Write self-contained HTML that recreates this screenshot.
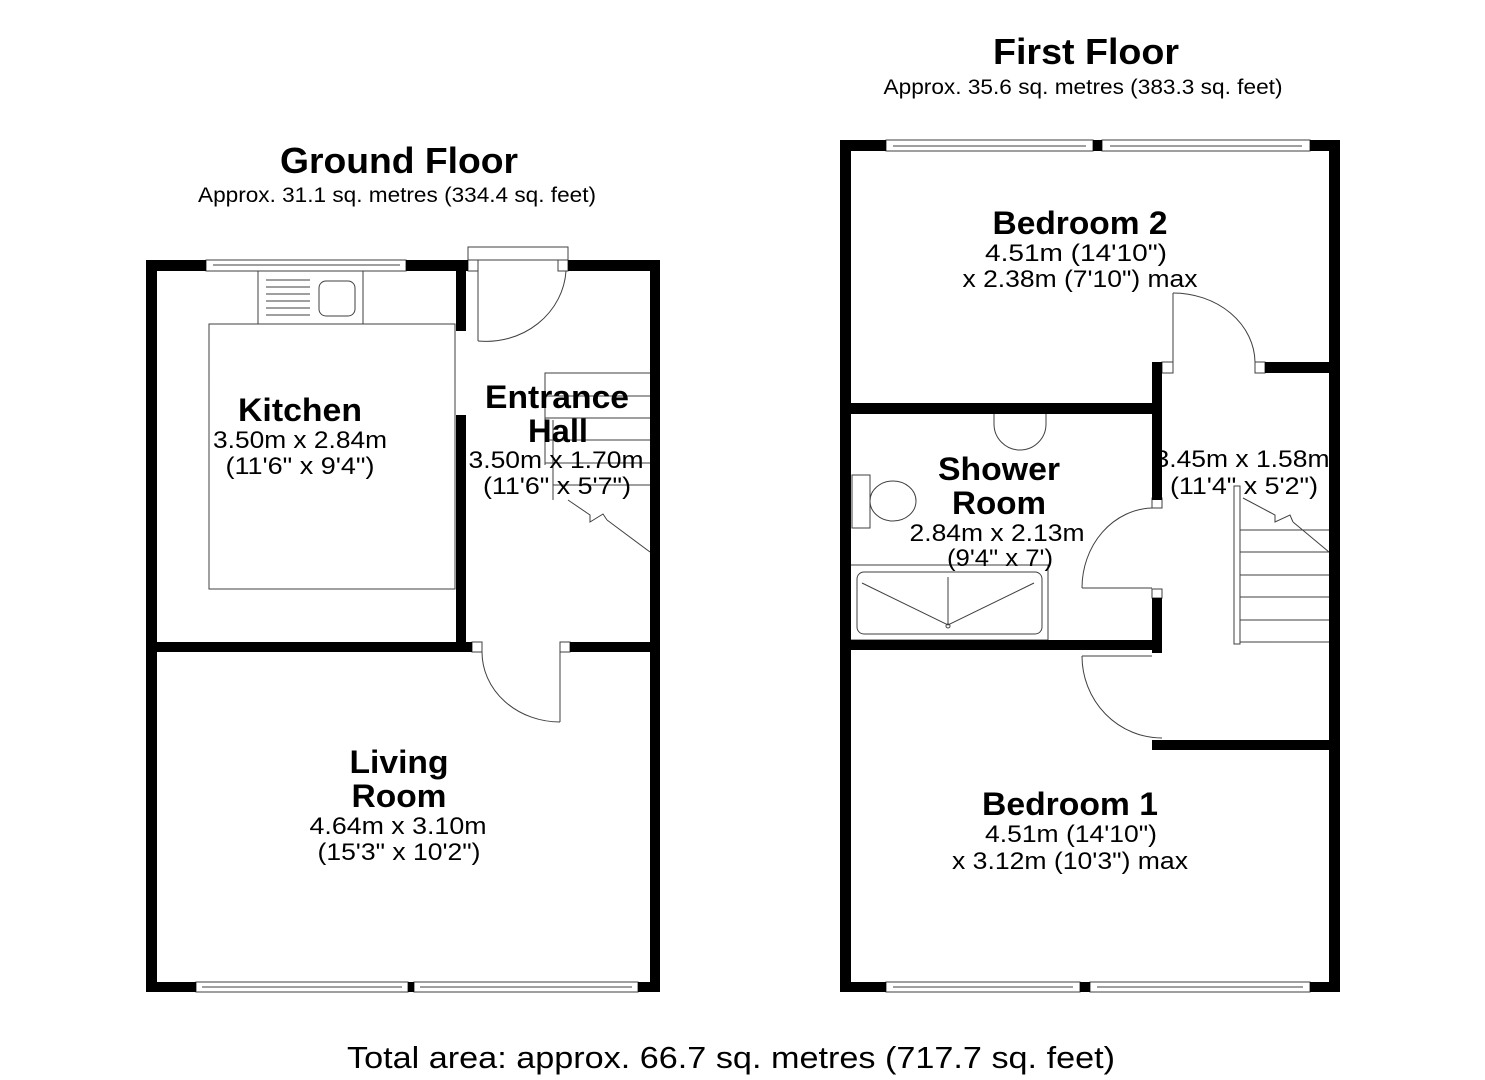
<!DOCTYPE html>
<html><head><meta charset="utf-8"><style>
html,body{margin:0;padding:0;background:#fff;}
svg{display:block;font-family:"Liberation Sans",Arial,sans-serif;}
</style></head><body>
<svg width="1485" height="1080" viewBox="0 0 1485 1080" xmlns="http://www.w3.org/2000/svg">
<g fill="#000">
<rect x="146" y="260" width="11" height="732"/>
<rect x="146" y="260" width="60" height="11"/>
<rect x="406" y="260" width="62" height="11"/>
<rect x="568" y="260" width="92" height="11"/>
<rect x="650" y="260" width="10" height="732"/>
<rect x="456" y="260" width="10" height="71"/>
<rect x="456" y="415" width="10" height="237"/>
<rect x="146" y="642" width="326" height="10"/>
<rect x="570" y="642" width="90" height="10"/>
<rect x="146" y="982" width="50" height="10"/>
<rect x="408" y="982" width="6" height="10"/>
<rect x="638" y="982" width="22" height="10"/>
<rect x="840" y="140" width="11" height="852"/>
<rect x="840" y="140" width="46" height="11"/>
<rect x="1093" y="140" width="9" height="11"/>
<rect x="1310" y="140" width="30" height="11"/>
<rect x="1329" y="140" width="11" height="852"/>
<rect x="840" y="403" width="322" height="11"/>
<rect x="1152" y="362" width="10" height="138"/>
<rect x="1265" y="362" width="70" height="11"/>
<rect x="840" y="640" width="322" height="10"/>
<rect x="1152" y="598" width="10" height="55"/>
<rect x="1152" y="740" width="186" height="10"/>
<rect x="840" y="982" width="46" height="10"/>
<rect x="1080" y="982" width="10" height="10"/>
<rect x="1310" y="982" width="30" height="10"/>
</g>
<g fill="none" stroke="#000" stroke-width="1" opacity="0.75">
<rect x="206" y="260" width="200" height="11"/><line x1="213" y1="265" x2="400" y2="265"/>
<rect x="196" y="982" width="212" height="10"/><line x1="202" y1="987" x2="402" y2="987"/>
<rect x="414" y="982" width="224" height="10"/><line x1="420" y1="987" x2="632" y2="987"/>
<rect x="468" y="247" width="100" height="13"/>
<rect x="468" y="260" width="10" height="11"/><rect x="558" y="260" width="10" height="11"/>
<line x1="478" y1="271" x2="478" y2="341"/>
<path d="M478 341 A80 75 0 0 0 566 271"/>
<rect x="472" y="642" width="10" height="10"/><rect x="560" y="642" width="10" height="10"/>
<line x1="560" y1="652" x2="560" y2="722"/>
<path d="M482 652 A78 70 0 0 0 560 722"/>
<rect x="209" y="324" width="246" height="265"/>
<rect x="258" y="271" width="105" height="53"/>
<line x1="266" y1="280" x2="310" y2="280"/><line x1="266" y1="287" x2="310" y2="287"/><line x1="266" y1="294" x2="310" y2="294"/><line x1="266" y1="301" x2="310" y2="301"/><line x1="266" y1="308" x2="310" y2="308"/><line x1="266" y1="315" x2="310" y2="315"/>
<rect x="319" y="281" width="36" height="35" rx="7"/>
<polyline points="545,465 545,373 650,373"/>
<line x1="545" y1="396" x2="650" y2="396"/><line x1="545" y1="418" x2="650" y2="418"/><line x1="545" y1="440" x2="650" y2="440"/><line x1="545" y1="463" x2="650" y2="463"/><line x1="553" y1="485" x2="650" y2="485"/>
<line x1="553" y1="420" x2="553" y2="500"/>
<polyline points="568,500 590,515 590,522 603,514 607,520"/>
<line x1="607" y1="520" x2="650" y2="552"/>
<rect x="886" y="140" width="207" height="11"/><line x1="893" y1="146" x2="1086" y2="146"/>
<rect x="1102" y="140" width="208" height="11"/><line x1="1110" y1="146" x2="1302" y2="146"/>
<rect x="886" y="982" width="194" height="10"/><line x1="893" y1="987" x2="1073" y2="987"/>
<rect x="1090" y="982" width="220" height="10"/><line x1="1097" y1="987" x2="1303" y2="987"/>
<rect x="1162" y="362" width="11" height="11"/><rect x="1255" y="362" width="10" height="11"/>
<line x1="1173" y1="293" x2="1173" y2="362"/>
<path d="M1173 293 A82 70 0 0 1 1255 362"/>
<rect x="1152" y="498" width="10" height="10"/><rect x="1152" y="589" width="10" height="9"/>
<line x1="1082" y1="588" x2="1152" y2="588"/>
<path d="M1152 508 A72 80 0 0 0 1082 588"/>
<line x1="1082" y1="656" x2="1152" y2="656"/>
<path d="M1082 656 A80 82 0 0 0 1162 738"/>
<path d="M994 414 L994 424 A25 25 0 0 0 1046 424 L1046 414"/>
<rect x="852" y="475" width="18" height="53"/>
<ellipse cx="893" cy="501" rx="23" ry="20"/>
<rect x="850" y="565" width="198" height="75"/>
<rect x="857" y="572" width="185" height="62" rx="7"/>
<polyline points="862,583 948,625 1034,583"/><line x1="948" y1="577" x2="948" y2="625"/><circle cx="948" cy="626" r="2"/>
<rect x="1234" y="486" width="6" height="158"/>
<line x1="1240" y1="530" x2="1329" y2="530"/><line x1="1240" y1="552" x2="1329" y2="552"/><line x1="1240" y1="575" x2="1329" y2="575"/><line x1="1240" y1="597" x2="1329" y2="597"/><line x1="1240" y1="620" x2="1329" y2="620"/><line x1="1240" y1="642" x2="1329" y2="642"/>
<polyline points="1243,498 1275,515 1275,522 1290,515 1293,522"/>
<line x1="1293" y1="522" x2="1329" y2="552"/>
</g>
<g text-anchor="middle" fill="#000" lengthAdjust="spacingAndGlyphs">
<text x="399" y="173" font-size="36" font-weight="bold" textLength="238" lengthAdjust="spacingAndGlyphs">Ground Floor</text>
<text x="397" y="202" font-size="21" textLength="398" lengthAdjust="spacingAndGlyphs">Approx. 31.1 sq. metres (334.4 sq. feet)</text>
<text x="1086" y="64" font-size="36" font-weight="bold" textLength="186" lengthAdjust="spacingAndGlyphs">First Floor</text>
<text x="1083" y="94" font-size="21" textLength="399" lengthAdjust="spacingAndGlyphs">Approx. 35.6 sq. metres (383.3 sq. feet)</text>
<text x="731" y="1068" font-size="31" textLength="768" lengthAdjust="spacingAndGlyphs">Total area: approx. 66.7 sq. metres (717.7 sq. feet)</text>

<text x="300" y="421" font-size="32" font-weight="bold" textLength="124" lengthAdjust="spacingAndGlyphs">Kitchen</text>
<text x="300" y="448" font-size="24" textLength="174" lengthAdjust="spacingAndGlyphs">3.50m x 2.84m</text>
<text x="300" y="474" font-size="24" textLength="149" lengthAdjust="spacingAndGlyphs">(11'6" x 9'4")</text>

<text x="557" y="408" font-size="32" font-weight="bold" textLength="144" lengthAdjust="spacingAndGlyphs">Entrance</text>
<text x="558" y="442" font-size="32" font-weight="bold" textLength="60" lengthAdjust="spacingAndGlyphs">Hall</text>
<text x="556" y="468" font-size="24" textLength="175" lengthAdjust="spacingAndGlyphs">3.50m x 1.70m</text>
<text x="557" y="494" font-size="24" textLength="148" lengthAdjust="spacingAndGlyphs">(11'6" x 5'7")</text>

<text x="399" y="773" font-size="32" font-weight="bold" textLength="99" lengthAdjust="spacingAndGlyphs">Living</text>
<text x="399" y="807" font-size="32" font-weight="bold" textLength="95" lengthAdjust="spacingAndGlyphs">Room</text>
<text x="398" y="834" font-size="24" textLength="177" lengthAdjust="spacingAndGlyphs">4.64m x 3.10m</text>
<text x="399" y="860" font-size="24" textLength="163" lengthAdjust="spacingAndGlyphs">(15'3" x 10'2")</text>

<text x="1080" y="234" font-size="32" font-weight="bold" textLength="175" lengthAdjust="spacingAndGlyphs">Bedroom 2</text>
<text x="1076" y="261" font-size="24" textLength="182" lengthAdjust="spacingAndGlyphs">4.51m (14'10")</text>
<text x="1080" y="287" font-size="24" textLength="235" lengthAdjust="spacingAndGlyphs">x 2.38m (7'10") max</text>

<text x="999" y="480" font-size="32" font-weight="bold" textLength="122" lengthAdjust="spacingAndGlyphs">Shower</text>
<text x="999" y="514" font-size="32" font-weight="bold" textLength="94" lengthAdjust="spacingAndGlyphs">Room</text>
<text x="997" y="541" font-size="24" textLength="175" lengthAdjust="spacingAndGlyphs">2.84m x 2.13m</text>
<text x="1000" y="566" font-size="24" textLength="106" lengthAdjust="spacingAndGlyphs">(9'4" x 7')</text>

<text x="1242" y="467" font-size="24" textLength="175" lengthAdjust="spacingAndGlyphs">3.45m x 1.58m</text>
<text x="1244" y="494" font-size="24" textLength="148" lengthAdjust="spacingAndGlyphs">(11'4" x 5'2")</text>

<text x="1070" y="815" font-size="32" font-weight="bold" textLength="176" lengthAdjust="spacingAndGlyphs">Bedroom 1</text>
<text x="1071" y="842" font-size="24" textLength="172" lengthAdjust="spacingAndGlyphs">4.51m (14'10")</text>
<text x="1070" y="869" font-size="24" textLength="236" lengthAdjust="spacingAndGlyphs">x 3.12m (10'3") max</text>
</g>
</svg>
</body></html>
